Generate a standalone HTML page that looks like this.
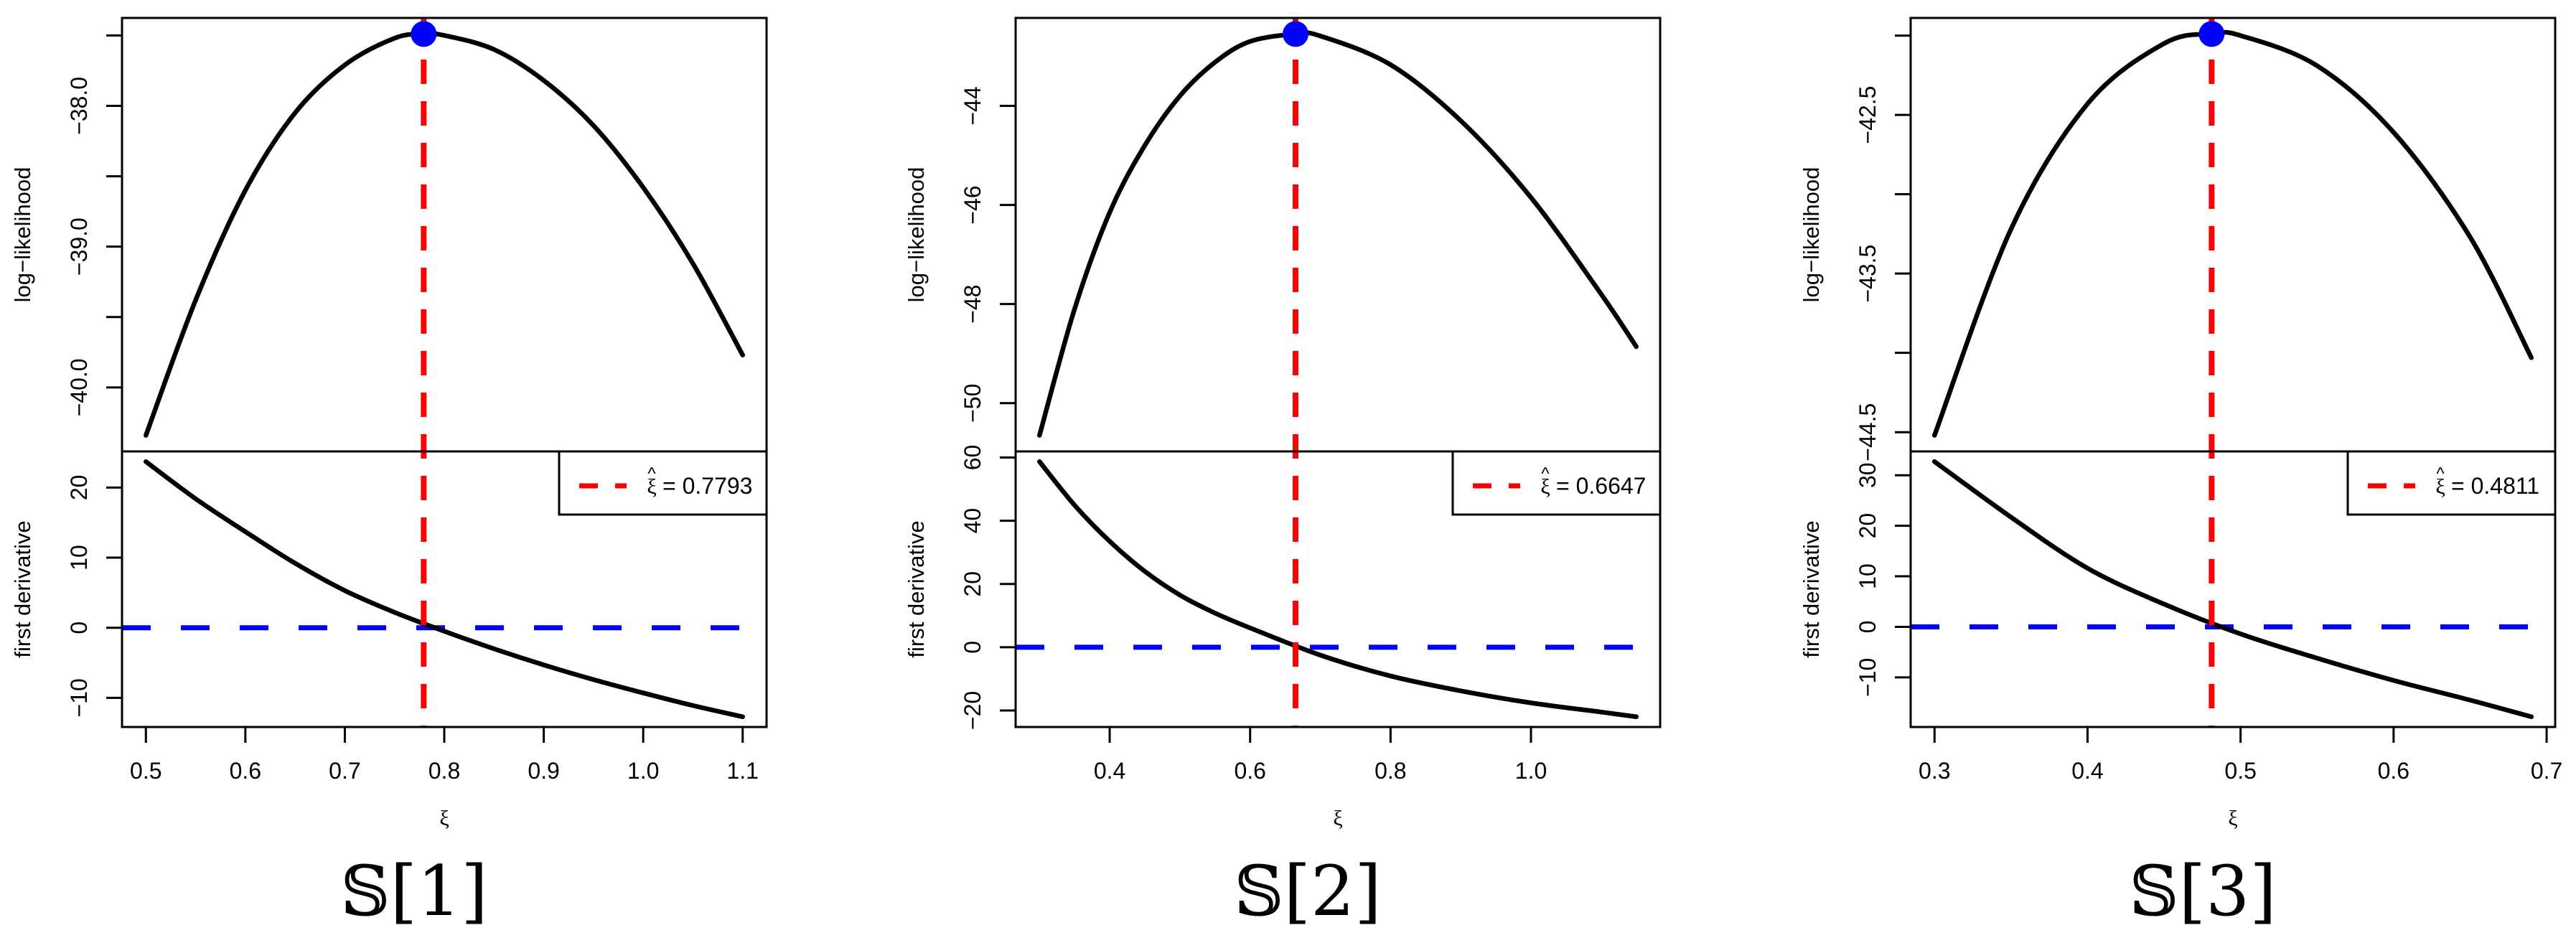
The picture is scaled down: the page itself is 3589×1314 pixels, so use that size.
<!DOCTYPE html>
<html><head><meta charset="utf-8"><style>
html,body{margin:0;padding:0;background:#fff;}
svg{display:block;}
text{font-family:"Liberation Sans","DejaVu Sans",sans-serif;fill:#000;}
</style></head><body>
<svg id="chart" width="3589" height="1314" viewBox="0 0 3589 1314" xmlns="http://www.w3.org/2000/svg"></svg>
<script>
// ---- data ----
const p1X = [0.5,0.55,0.6,0.65,0.7,0.75,0.7793,0.8,0.85,0.9,0.95,1.0,1.05,1.1];
const p1LL = [-40.34,-39.38,-38.60,-38.05,-37.71,-37.52,-37.49,-37.50,-37.60,-37.82,-38.14,-38.58,-39.12,-39.77];
const p1DX = [0.5,0.55,0.6,0.65,0.7,0.75,0.8,0.85,0.9,0.95,1.0,1.05,1.1];
const p1D = [23.7,18.4,13.7,9.2,5.3,2.2,-0.5,-3.0,-5.3,-7.4,-9.3,-11.1,-12.7];
const p1Hat = 0.7793;
const p1XTicks = [0.5,0.6,0.7,0.8,0.9,1.0,1.1];
const p1XLabels = ["0.5","0.6","0.7","0.8","0.9","1.0","1.1"];
const p1YTicks = [-37.5,-38.0,-38.5,-39.0,-39.5,-40.0];
const p1YLabels = ["","−38.0","","−39.0","","−40.0"];
const p1DTicks = [-10,0,10,20];
const p1DLabels = ["−10","0","10","20"];

const p2X = [0.3,0.35,0.4,0.45,0.5,0.55,0.6,0.6647,0.7,0.8,0.9,1.0,1.1,1.15];
const p2LL = [-50.65,-48.1,-46.15,-44.8,-43.8,-43.12,-42.70,-42.55,-42.59,-43.17,-44.3,-45.85,-47.8,-48.86];
const p2DX = [0.3,0.35,0.4,0.45,0.5,0.55,0.6,0.7,0.8,0.9,1.0,1.1,1.15];
const p2D = [58.7,44.9,33.5,24.0,16.5,10.8,6.1,-2.5,-9.1,-13.8,-17.6,-20.5,-22.0];
const p2Hat = 0.6647;
const p2XTicks = [0.4,0.6,0.8,1.0];
const p2XLabels = ["0.4","0.6","0.8","1.0"];
const p2YTicks = [-44,-46,-48,-50];
const p2YLabels = ["−44","−46","−48","−50"];
const p2DTicks = [-20,0,20,40,60];
const p2DLabels = ["−20","0","20","40","60"];

const p3X = [0.3,0.35,0.4,0.45,0.4811,0.5,0.55,0.6,0.65,0.69];
const p3LL = [-44.52,-43.22,-42.43,-42.05,-41.99,-42.00,-42.19,-42.61,-43.27,-44.03];
const p3DX = [0.3,0.35,0.4,0.45,0.5,0.55,0.6,0.65,0.69];
const p3D = [32.7,21.7,11.6,4.5,-1.4,-6.2,-10.6,-14.5,-17.8];
const p3Hat = 0.4811;
const p3XTicks = [0.3,0.4,0.5,0.6,0.7];
const p3XLabels = ["0.3","0.4","0.5","0.6","0.7"];
const p3YTicks = [-42.0,-42.5,-43.0,-43.5,-44.0,-44.5];
const p3YLabels = ["","−42.5","","−43.5","","−44.5"];
const p3DTicks = [-10,0,10,20,30];
const p3DLabels = ["−10","0","10","20","30"];

const hatLabels = ["0.7793","0.6647","0.4811"];
const panelTitles = ["1","2","3"];

// ---- drawing ----
const NS = "http://www.w3.org/2000/svg";
const svg = document.getElementById("chart");
function mk(tag, attrs, parent){
  const e = document.createElementNS(NS, tag);
  for (const k in attrs) e.setAttribute(k, attrs[k]);
  (parent||svg).appendChild(e);
  return e;
}
function padRange(arr){
  const mn=Math.min(...arr), mx=Math.max(...arr), p=(mx-mn)*0.04;
  return [mn-p, mx+p];
}
function smoothPath(pts){
  let d = "M" + pts[0][0] + "," + pts[0][1];
  for (let i=0;i<pts.length-1;i++){
    const p0 = pts[Math.max(0,i-1)], p1 = pts[i], p2 = pts[i+1], p3 = pts[Math.min(pts.length-1,i+2)];
    const c1x = p1[0] + (p2[0]-p0[0])/6, c1y = p1[1] + (p2[1]-p0[1])/6;
    const c2x = p2[0] - (p3[0]-p1[0])/6, c2y = p2[1] - (p3[1]-p1[1])/6;
    d += ` C${c1x},${c1y} ${c2x},${c2y} ${p2[0]},${p2[1]}`;
  }
  return d;
}
const TOP=25, MID=629, BOT=1013, W=898;
const panels = [
  {left:170, x:p1X, ll:p1LL, dx:p1DX, d:p1D, hat:p1Hat, xt:p1XTicks, xl:p1XLabels, yt:p1YTicks, yl:p1YLabels, dt:p1DTicks, dl:p1DLabels},
  {left:1415, x:p2X, ll:p2LL, dx:p2DX, d:p2D, hat:p2Hat, xt:p2XTicks, xl:p2XLabels, yt:p2YTicks, yl:p2YLabels, dt:p2DTicks, dl:p2DLabels},
  {left:2662, x:p3X, ll:p3LL, dx:p3DX, d:p3D, hat:p3Hat, xt:p3XTicks, xl:p3XLabels, yt:p3YTicks, yl:p3YLabels, dt:p3DTicks, dl:p3DLabels}
];
panels.forEach((P, i) => {
  const g = mk("g", {});
  
  
  const L = P.left, R = L + W;
  const xr = padRange(P.x.concat(P.dx));
  const sx = v => L + (v - xr[0]) / (xr[1]-xr[0]) * W;
  const yr = padRange(P.ll);
  const sy = v => MID - (v - yr[0]) / (yr[1]-yr[0]) * (MID-TOP);
  const dr = padRange(P.d);
  const sd = v => BOT - (v - dr[0]) / (dr[1]-dr[0]) * (BOT-MID);

  const z = mk("line", {x1:L, x2:R, y1:sd(0), y2:sd(0), stroke:"#0000ff", "stroke-width":7, "stroke-dasharray":"40 42"}, g);
  
  

  const ll = mk("path", {d:smoothPath(P.x.map((v,k)=>[sx(v), sy(P.ll[k])])), fill:"none", stroke:"#000", "stroke-width":6.5, "stroke-linecap":"round", "stroke-linejoin":"round"}, g);
  
  
  const dc = mk("path", {d:smoothPath(P.dx.map((v,k)=>[sx(v), sd(P.d[k])])), fill:"none", stroke:"#000", "stroke-width":6.5, "stroke-linecap":"round", "stroke-linejoin":"round"}, g);
  
  

  const rv = mk("line", {x1:sx(P.hat), x2:sx(P.hat), y1:TOP, y2:BOT, stroke:"#ff0000", "stroke-width":8, "stroke-dasharray":"34 24"}, g);
  
  

  const peakV = Math.max(...P.ll);
  const dot = mk("circle", {cx:sx(P.hat), cy:sy(peakV), r:18, fill:"#0000ff"}, g);
  
  

  const f1 = mk("rect", {x:L, y:TOP, width:W, height:MID-TOP, fill:"none", stroke:"#000", "stroke-width":3}, g);
  
  
  const f2 = mk("rect", {x:L, y:MID, width:W, height:BOT-MID, fill:"none", stroke:"#000", "stroke-width":3}, g);
  
  

  P.yt.forEach((v,k)=>{
    const y = sy(v);
    const t = mk("line", {x1:L-22, x2:L, y1:y, y2:y, stroke:"#000", "stroke-width":3}, g);
    
    
    if (P.yl[k]) {
      const tx = mk("text", {x:0, y:0, "font-size":32, "text-anchor":"middle", transform:`translate(${L-49},${y}) rotate(-90)`}, g);
      tx.textContent = P.yl[k];
      
      
    }
  });
  P.dt.forEach((v,k)=>{
    const y = sd(v);
    const t = mk("line", {x1:L-22, x2:L, y1:y, y2:y, stroke:"#000", "stroke-width":3}, g);
    
    
    const tx = mk("text", {x:0, y:0, "font-size":32, "text-anchor":"middle", transform:`translate(${L-49},${y}) rotate(-90)`}, g);
    tx.textContent = P.dl[k];
    
    
  });
  P.xt.forEach((v,k)=>{
    const x = sx(v);
    const t = mk("line", {x1:x, x2:x, y1:BOT, y2:BOT+22, stroke:"#000", "stroke-width":3}, g);
    
    
    const tx = mk("text", {x:x, y:BOT+72, "font-size":32, "text-anchor":"middle"}, g);
    tx.textContent = P.xl[k];
    
    
  });
  const yt1 = mk("text", {x:0, y:0, "font-size":31, "text-anchor":"middle", transform:`translate(${L-128},${(TOP+MID)/2}) rotate(-90)`}, g);
  yt1.textContent = "log−likelihood";
  
  
  const yt2 = mk("text", {x:0, y:0, "font-size":31, "text-anchor":"middle", transform:`translate(${L-128},${(MID+BOT)/2}) rotate(-90)`}, g);
  yt2.textContent = "first derivative";
  
  
  const xt = mk("text", {x:L+W/2, y:1150, "font-size":30, "text-anchor":"middle", style:"font-family:'Liberation Serif','DejaVu Serif',serif"}, g);
  xt.textContent = "ξ";
  
  

  const lg = mk("g", {}, g);
  
  
  const lb = mk("rect", {x:R-289, y:MID, width:289, height:88, fill:"#fff", stroke:"#000", "stroke-width":3}, lg);
  
  
  const ls = mk("line", {x1:R-261, x2:R-195, y1:677, y2:677, stroke:"#ff0000", "stroke-width":7, "stroke-dasharray":"26 24"}, lg);
  
  
  const hx = mk("text", {x:R-160, y:688, "font-size":30, "text-anchor":"middle", style:"font-family:'Liberation Serif','DejaVu Serif',serif"}, lg);
  hx.textContent = "ξ";
  
  
  const hh = mk("text", {x:R-160, y:668, "font-size":24, "text-anchor":"middle"}, lg);
  hh.textContent = "^";
  
  
  const lt = mk("text", {x:R-145, y:688, "font-size":32}, lg);
  lt.textContent = "= " + hatLabels[i];
  
  

  const pt = mk("text", {x:L+407, y:1275, "font-size":96, "text-anchor":"middle", style:"font-family:'DejaVu Serif','Liberation Serif',serif"}, g);
  pt.textContent = "𝕊[" + panelTitles[i] + "]";
  
  
});
</script>
</body></html>
